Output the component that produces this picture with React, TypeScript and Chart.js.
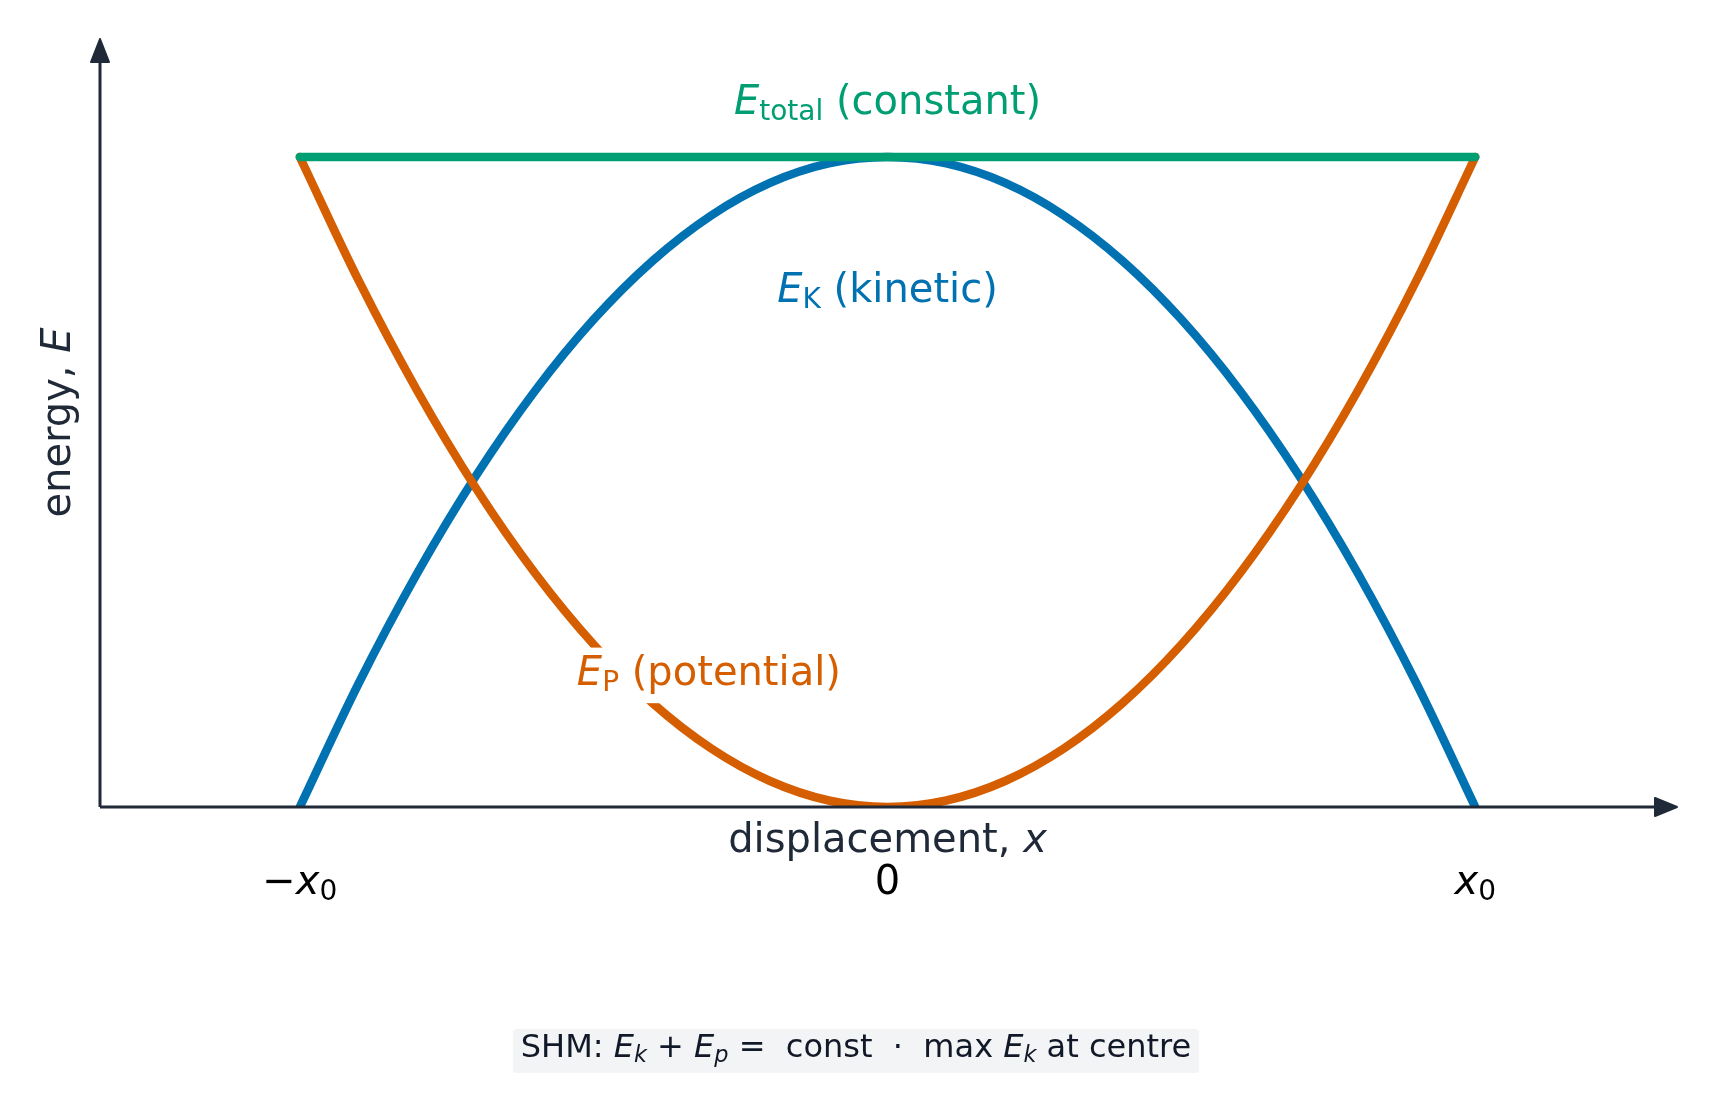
import React from 'react'
import { Chart, registerables, type Plugin } from 'chart.js'

Chart.register(...registerables)

const displacement = [
  -1.0, -0.9, -0.8, -0.7, -0.6, -0.5, -0.4, -0.3, -0.2, -0.1, 0.0,
  0.1, 0.2, 0.3, 0.4, 0.5, 0.6, 0.7, 0.8, 0.9, 1.0
]
const kineticEnergy = [
  0.0, 0.19, 0.36, 0.51, 0.64, 0.75, 0.84, 0.91, 0.96, 0.99, 1.0,
  0.99, 0.96, 0.91, 0.84, 0.75, 0.64, 0.51, 0.36, 0.19, 0.0
]
const potentialEnergy = [
  1.0, 0.81, 0.64, 0.49, 0.36, 0.25, 0.16, 0.09, 0.04, 0.01, 0.0,
  0.01, 0.04, 0.09, 0.16, 0.25, 0.36, 0.49, 0.64, 0.81, 1.0
]
const totalEnergy = [
  1.0, 1.0, 1.0, 1.0, 1.0, 1.0, 1.0, 1.0, 1.0, 1.0, 1.0,
  1.0, 1.0, 1.0, 1.0, 1.0, 1.0, 1.0, 1.0, 1.0, 1.0
]

// tick labels: *..* = italic, _{..} = subscript
const xTickValues = [-1, 0, 1]
const xTickLabels = ['−*x*_{0}', '0', '*x*_{0}']

const xTitle = 'displacement, *x*'
const yTitle = 'energy, *E*'
const totalLabel = '*E*_{total} (constant)'
const kineticLabel = '*E*_{K} (kinetic)'
const potentialLabel = '*E*_{P} (potential)'
const caption = 'SHM: *E*_{*k*} + *E*_{*p*} =  const  ·  max *E*_{*k*} at centre'

const GREEN = '#009E73'
const BLUE = '#0072B2'
const ORANGE = '#D55E00'
const AXIS = '#1f2937'
const FONT = '"DejaVu Sans", "Noto Sans", sans-serif'

type Seg = { text: string; italic: boolean; sub: boolean }

function parseRich(src: string): Seg[] {
  const segs: Seg[] = []
  let italic = false
  let sub = false
  let buf = ''
  const flush = () => {
    if (buf) segs.push({ text: buf, italic, sub })
    buf = ''
  }
  for (let i = 0; i < src.length; i++) {
    const c = src[i]
    if (c === '*') {
      flush()
      italic = !italic
    } else if (c === '_' && src[i + 1] === '{') {
      flush()
      sub = true
      i++
    } else if (c === '}' && sub) {
      flush()
      sub = false
    } else {
      buf += c
    }
  }
  flush()
  return segs
}

function segFont(s: Seg, size: number) {
  const sz = s.sub ? size * 0.7 : size
  return `${s.italic ? 'italic ' : ''}${sz}px ${FONT}`
}

function measureRich(ctx: CanvasRenderingContext2D, src: string, size: number) {
  let w = 0
  for (const s of parseRich(src)) {
    ctx.font = segFont(s, size)
    w += ctx.measureText(s.text).width
  }
  return w
}

// draws rich text centred on x with its baseline at y
function drawRich(
  ctx: CanvasRenderingContext2D,
  src: string,
  x: number,
  y: number,
  size: number,
  color: string
) {
  const width = measureRich(ctx, src, size)
  let cx = x - width / 2
  ctx.save()
  ctx.fillStyle = color
  ctx.textAlign = 'left'
  ctx.textBaseline = 'alphabetic'
  for (const s of parseRich(src)) {
    ctx.font = segFont(s, size)
    ctx.fillText(s.text, cx, s.sub ? y + size * 0.16 : y)
    cx += ctx.measureText(s.text).width
  }
  ctx.restore()
}

const annotations: Plugin = {
  id: 'shmAnnotations',
  afterDatasetsDraw(chart) {
    const { ctx, chartArea, scales } = chart
    const xs = scales.x
    const ys = scales.y
    const x0 = chartArea.left
    const yZero = ys.getPixelForValue(0)

    ctx.save()
    // axes with arrow heads
    ctx.strokeStyle = AXIS
    ctx.fillStyle = AXIS
    ctx.lineWidth = 3
    ctx.lineJoin = 'round'
    ctx.beginPath()
    ctx.moveTo(x0, yZero)
    ctx.lineTo(x0, chartArea.top + 20)
    ctx.moveTo(x0, yZero)
    ctx.lineTo(chartArea.right - 20, yZero)
    ctx.stroke()

    ctx.lineWidth = 2
    ctx.beginPath()
    ctx.moveTo(x0, chartArea.top + 1)
    ctx.lineTo(x0 - 9, chartArea.top + 24)
    ctx.lineTo(x0 + 9, chartArea.top + 24)
    ctx.closePath()
    ctx.fill()
    ctx.stroke()

    ctx.beginPath()
    ctx.moveTo(chartArea.right - 1, yZero)
    ctx.lineTo(chartArea.right - 23, yZero - 9)
    ctx.lineTo(chartArea.right - 23, yZero + 9)
    ctx.closePath()
    ctx.fill()
    ctx.stroke()
    ctx.restore()

    // curve labels
    const size = 40
    drawRich(ctx, totalLabel, xs.getPixelForValue(0), ys.getPixelForValue(1.066), size, GREEN)
    drawRich(ctx, kineticLabel, xs.getPixelForValue(0), ys.getPixelForValue(0.777), size, BLUE)

    const pw = measureRich(ctx, potentialLabel, size)
    const px = xs.getPixelForValue(-0.304)
    const py = ys.getPixelForValue(0.188)
    ctx.save()
    ctx.fillStyle = '#ffffff'
    ctx.fillRect(px - pw / 2 - 10, py - size * 0.93, pw + 20, size * 1.39)
    ctx.restore()
    drawRich(ctx, potentialLabel, px, py, size, ORANGE)

    // axis titles and ticks
    drawRich(ctx, xTitle, xs.getPixelForValue(0), yZero + 45, size, AXIS)
    xTickValues.forEach((v, i) => {
      drawRich(ctx, xTickLabels[i], xs.getPixelForValue(v), yZero + 87, size, '#000000')
    })

    ctx.save()
    ctx.translate(x0 - 30, (chartArea.top + yZero) / 2)
    ctx.rotate(-Math.PI / 2)
    drawRich(ctx, yTitle, 0, 0, size, AXIS)
    ctx.restore()

    // caption box
    const capSize = 32
    const cw = measureRich(ctx, caption, capSize)
    const cx = 856
    const cy = 1057
    ctx.save()
    ctx.fillStyle = '#f3f4f6'
    ctx.beginPath()
    ctx.roundRect(cx - cw / 2 - 8, cy - 28, cw + 16, 44, 4)
    ctx.fill()
    ctx.restore()
    drawRich(ctx, caption, cx, cy, capSize, '#111827')
  }
}

export default function App() {
  const canvasRef = React.useRef<HTMLCanvasElement>(null)

  React.useEffect(() => {
    if (!canvasRef.current) return
    const line = (label: string, values: number[], color: string) => ({
      label,
      data: displacement.map((x, i) => ({ x, y: values[i] })),
      borderColor: color,
      borderWidth: 8.5,
      borderCapStyle: 'round' as const,
      borderJoinStyle: 'round' as const,
      cubicInterpolationMode: 'monotone' as const,
      pointRadius: 0,
      fill: false
    })

    const chart = new Chart(canvasRef.current, {
      type: 'line',
      data: {
        datasets: [
          line('E total', totalEnergy, GREEN),
          line('E potential', potentialEnergy, ORANGE),
          line('E kinetic', kineticEnergy, BLUE)
        ]
      },
      options: {
        animation: false,
        responsive: false,
        devicePixelRatio: 1,
        layout: { padding: { left: 100, right: 40, top: 38, bottom: 303 } },
        plugins: {
          legend: { display: false },
          tooltip: { enabled: false }
        },
        scales: {
          x: { type: 'linear', min: -1.34, max: 1.345, display: false },
          y: { type: 'linear', min: 0, max: 1.183, display: false }
        }
      },
      plugins: [annotations]
    })

    return () => chart.destroy()
  }, [])

  return (
    <div style={{ position: 'absolute', left: 0, top: 0, width: 1718, height: 1110, background: '#ffffff' }}>
      <canvas ref={canvasRef} width={1718} height={1110} />
    </div>
  )
}
